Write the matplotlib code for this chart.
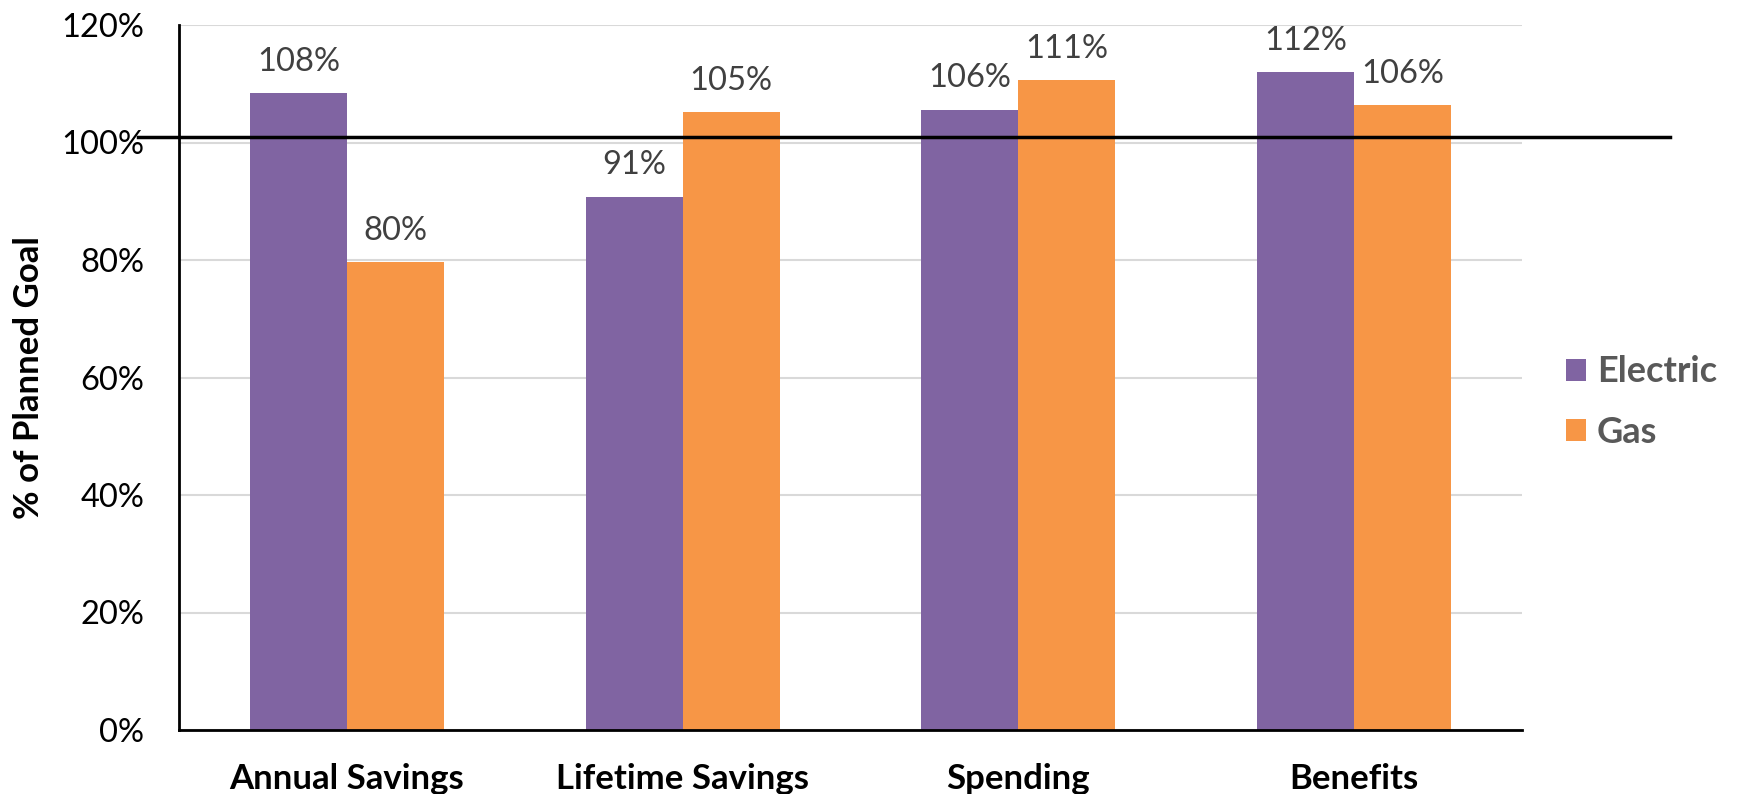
import matplotlib
matplotlib.use("Agg")
import matplotlib.pyplot as plt
import numpy as np

# values (% of planned goal)
categories = ["Annual Savings", "Lifetime Savings", "Spending", "Benefits"]
electric = [108.4, 90.8, 105.6, 112.0]
gas = [79.7, 105.2, 110.6, 106.3]
series_names = ["Electric", "Gas"]
goal_line = 100.9
yticks = [0, 20, 40, 60, 80, 100, 120]

purple = "#8064A2"
orange = "#F79646"

plt.rcParams['font.family'] = ['Lato', 'DejaVu Sans']

fig = plt.figure(figsize=(17.41, 7.94), dpi=100)
ax = fig.add_axes([179 / 1741, 1 - 730 / 794, 1343 / 1741, 705 / 794])

x = np.arange(len(categories))
w = 0.289
b1 = ax.bar(x - w / 2, electric, w, color=purple, label=series_names[0], zorder=2)
b2 = ax.bar(x + w / 2, gas, w, color=orange, label=series_names[1], zorder=2)

for bars, vals in ((b1, electric), (b2, gas)):
    for rect, v in zip(bars, vals):
        ax.annotate(f"{round(v)}%", (rect.get_x() + rect.get_width() / 2, v),
                    xytext=(0, 16), textcoords="offset points",
                    ha="center", va="baseline", fontsize=23.5, color="#404040")

ax.set_xlim(-0.5, len(categories) - 0.5)
ax.set_ylim(0, 120)
ax.set_yticks(yticks)
ax.set_yticklabels([f"{t}%" for t in yticks])
ax.set_xticks(x)
ax.set_xticklabels(categories, fontweight="bold")
ax.tick_params(axis="y", length=0, pad=25, labelsize=23.5)
ax.tick_params(axis="x", length=0, pad=24, labelsize=25)
ax.yaxis.grid(True, color="#d9d9d9", linewidth=1.5, zorder=0)
ax.set_axisbelow(True)

for s in ("top", "right"):
    ax.spines[s].set_visible(False)
for s in ("left", "bottom"):
    ax.spines[s].set_linewidth(2)
    ax.spines[s].set_color("black")

# goal line, sticks out past the plot area
ax.axhline(goal_line, xmin=-0.0305, xmax=1.11, color="black", linewidth=2.5,
           clip_on=False, zorder=3)

ax.set_ylabel("% of Planned Goal", fontsize=25, fontweight="bold", labelpad=12)

leg = ax.legend(loc="center left", bbox_to_anchor=(1566 / 1741, 1 - 402 / 794),
                bbox_transform=fig.transFigure, frameon=False, fontsize=26,
                handlelength=0.56, handleheight=0.56, handletextpad=0.3,
                labelspacing=0.75, borderpad=0, borderaxespad=0)
for t in leg.get_texts():
    t.set_color("#595959")
    t.set_fontweight("bold")

fig.savefig("out.png", dpi=100)
